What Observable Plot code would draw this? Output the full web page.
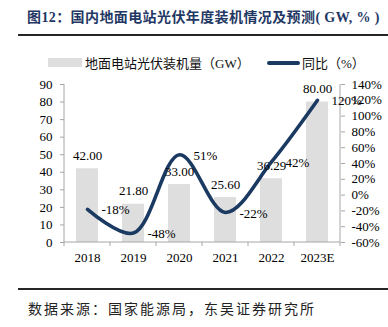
<!DOCTYPE html>
<html>
<head>
<meta charset="utf-8">
<script src="https://cdn.jsdelivr.net/npm/d3@7"></script>
<script src="https://cdn.jsdelivr.net/npm/@observablehq/plot@0.6"></script>
<style>
  html, body { margin: 0; padding: 0; background: #fff; }
  body { width: 388px; height: 327px; position: relative; overflow: hidden; font-family: "Liberation Serif", "Noto Sans CJK SC", serif; }
  .title { position: absolute; left: 27px; top: 6px; font-size: 14px; font-weight: bold; color: #1f3864; letter-spacing: 0.4px; white-space: nowrap; }
  .rule { position: absolute; left: 18px; width: 370px; height: 2px; background: #262626; }
  .legend { position: absolute; top: 53px; left: 0; width: 388px; height: 18px; font-size: 13px; color: #111; }
  .legend .item { position: absolute; display: flex; align-items: center; white-space: nowrap; }
  .sw-bar { width: 34px; height: 9px; background: #dedede; margin-right: 3px; }
  .sw-line { width: 33px; height: 4px; background: #1b3a62; border-radius: 2px; margin-right: 2px; }
  #chart { position: absolute; left: 0; top: 70px; }
  .source { position: absolute; left: 28px; top: 298px; font-size: 14px; color: #222; letter-spacing: 2px; white-space: nowrap; }
</style>
</head>
<body>
<div class="title">图12：国内地面电站光伏年度装机情况及预测( GW, % )</div>
<div class="rule" style="top:34px"></div>
<div class="legend">
  <div class="item" style="left:48px"><span class="sw-bar"></span><span>地面电站光伏装机量（GW）</span></div>
  <div class="item" style="left:267px"><span class="sw-line"></span><span>同比（%）</span></div>
</div>
<div id="chart"></div>
<div class="rule" style="top:288px"></div>
<div class="source">数据来源：国家能源局，东吴证券研究所</div>
<script>
const years = ["2018", "2019", "2020", "2021", "2022", "2023E"];
const installed = [42.00, 21.80, 33.00, 25.60, 36.29, 80.00];
const yoy = [-18, -48, 51, -22, 42, 120];
const leftTicks = [0, 10, 20, 30, 40, 50, 60, 70, 80, 90];
const rightTicks = [-60, -40, -20, 0, 20, 40, 60, 80, 100, 120, 140];

const leftMax = 90, rightMin = -60, rightMax = 140;
const toLeft = p => (p - rightMin) * leftMax / (rightMax - rightMin);
const fromLeft = v => v * (rightMax - rightMin) / leftMax + rightMin;

const data = years.map((y, i) => ({ year: y, gw: installed[i], pct: yoy[i] }));

const axisLines = (index, scales, values, dim) => {
  const g = d3.create("svg:g").attr("stroke", "#a6a6a6").attr("stroke-width", 1);
  const x = scales.x, y = scales.y;
  const bw = x.bandwidth ? x.bandwidth() : (dim.width - dim.marginLeft - dim.marginRight) / years.length;
  const x0 = x(years[0]);
  const x1 = x(years[years.length - 1]) + bw;
  const y0 = y(0), yTop = y(leftMax);
  g.append("line").attr("x1", x0).attr("x2", x0).attr("y1", yTop).attr("y2", y0);
  g.append("line").attr("x1", x1).attr("x2", x1).attr("y1", yTop).attr("y2", y0);
  g.append("line").attr("x1", x0).attr("x2", x1).attr("y1", y0).attr("y2", y0);
  const bounds = years.map(d => x(d)).concat([x1]);
  for (const b of bounds) {
    g.append("line").attr("x1", b).attr("x2", b).attr("y1", y0).attr("y2", y0 + 4);
  }
  return g.node();
};

const chart = Plot.plot({
  width: 388,
  height: 200,
  marginTop: 14,
  marginBottom: 28,
  marginLeft: 64,
  marginRight: 48,
  style: { fontFamily: "Liberation Serif, serif", fontSize: "13px", background: "white", overflow: "visible", color: "#000" },
  x: { domain: years, padding: 0, label: null },
  y: { domain: [0, leftMax], label: null },
  marks: [
    Plot.barY(data, { x: "year", y: "gw", fill: "#dedede", insetLeft: 12, insetRight: 12 }),
    Plot.line(data, { x: "year", y: d => toLeft(d.pct), stroke: "#1b3a62", strokeWidth: 3.6, curve: "catmull-rom", strokeLinecap: "round" }),
    Plot.axisY(leftTicks, { anchor: "left", tickSize: 4, tickPadding: 8, stroke: "#a6a6a6", fill: "#000", label: null }),
    Plot.axisY(rightTicks.map(toLeft), { anchor: "right", tickSize: 4, tickPadding: 7, stroke: "#a6a6a6", fill: "#000", label: null, tickFormat: v => Math.round(fromLeft(v)) + "%" }),
    Plot.axisX({ tickSize: 0, tickPadding: 10, fill: "#000", label: null }),
    axisLines,
    Plot.text(data, { x: "year", y: "gw", text: d => d.gw.toFixed(2), dy: -13, fill: "#000" }),
    Plot.text(data, { x: "year", y: d => toLeft(d.pct), text: d => d.pct + "%", textAnchor: "start", dx: 14, dy: 1, fill: "#000" })
  ]
});
document.getElementById("chart").appendChild(chart);
</script>
</body>
</html>
